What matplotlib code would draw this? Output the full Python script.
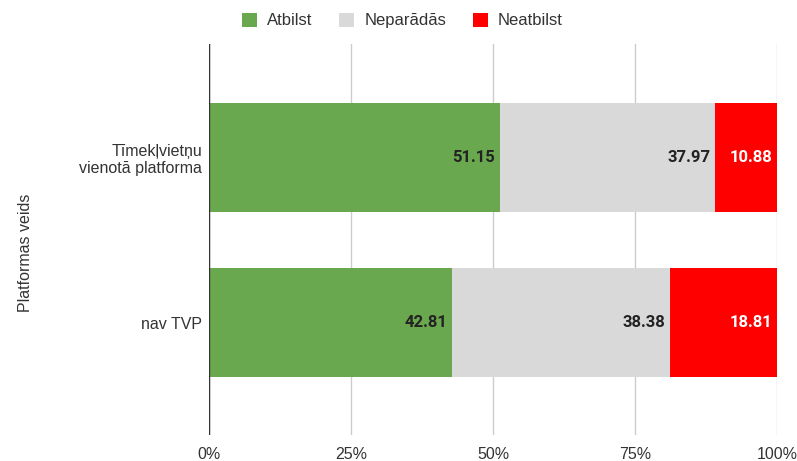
import numpy as np
from matplotlib import pyplot as plt

categories = ["Tīmekļvietņu\nvienotā platforma", "nav TVP"]
series = ["Atbilst", "Neparādās", "Neatbilst"]
atbilst = [51.15, 42.81]
neparadas = [37.97, 38.38]
neatbilst = [10.88, 18.81]
colors = ["#6aa84f", "#d9d9d9", "#ff0000"]
label_colors = ["#222222", "#222222", "#ffffff"]

plt.rcParams["font.family"] = ["Liberation Sans", "DejaVu Sans"]

fig = plt.figure(figsize=(7.97, 4.61), dpi=100)
ax = fig.add_axes([0.2622, 0.0564, 0.7128, 0.848])

y = np.arange(len(categories))
left = np.zeros(len(categories))
for name, vals, col, lcol in zip(series, [atbilst, neparadas, neatbilst], colors, label_colors):
    vals = np.array(vals)
    bars = ax.barh(y, vals, left=left, height=0.66, color=col, label=name, zorder=2)
    for b, v in zip(bars, vals):
        ax.text(b.get_x() + b.get_width() - 0.9, b.get_y() + b.get_height() / 2,
                f"{v:.2f}", ha="right", va="center", color=lcol,
                fontsize=12, fontweight="bold", family=["Roboto", "DejaVu Sans"], zorder=3)
    left += vals

ax.set_xlim(0, 100)
ax.set_ylim(1.682, -0.688)
ax.set_yticks(y)
ax.set_yticklabels(categories, fontsize=11.5, color="#333333")
ax.set_xticks([0, 25, 50, 75, 100])
ax.set_xticklabels(["0%", "25%", "50%", "75%", "100%"], fontsize=11.5, color="#333333")
ax.tick_params(length=0)
ax.tick_params(axis="y", pad=5)
ax.tick_params(axis="x", pad=9)
ax.grid(axis="x", color="#cccccc", linewidth=1, zorder=0)
ax.axvline(0, color="#333333", linewidth=1, zorder=4)
for s in ax.spines.values():
    s.set_visible(False)
ax.set_ylabel("Platformas veids", fontsize=11.5, color="#333333")
ax.yaxis.set_label_coords(-0.31, 0.465)

fig.legend(loc="upper center", bbox_to_anchor=(0.505, 1.005), ncol=3, frameon=False,
           fontsize=12, handlelength=0.9, handleheight=0.9, handletextpad=0.6,
           columnspacing=1.6, labelcolor="#333333")

fig.savefig("out.png", dpi=100)
